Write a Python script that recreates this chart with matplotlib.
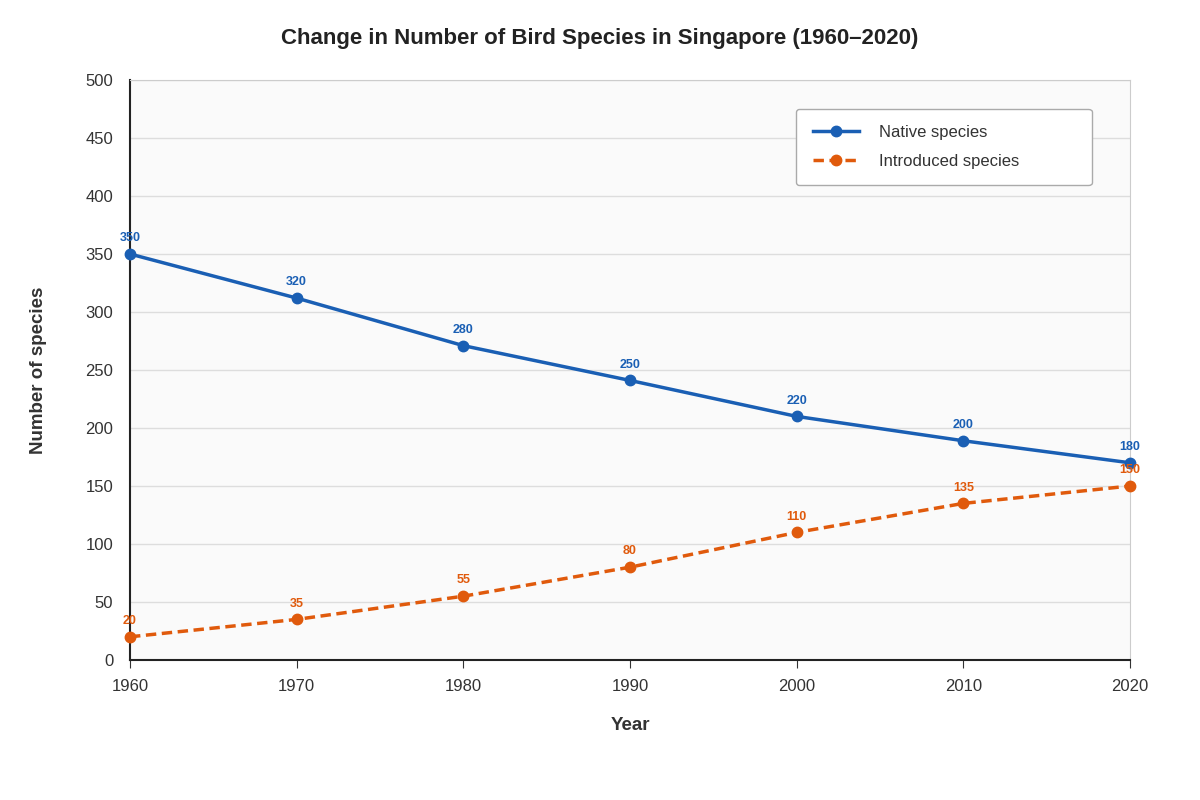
import matplotlib.pyplot as plt

plt.rcParams['font.family'] = ['Liberation Sans', 'DejaVu Sans']

years = [1960, 1970, 1980, 1990, 2000, 2010, 2020]
native = [350, 312, 271, 241, 210, 189, 170]
native_labels = ["350", "320", "280", "250", "220", "200", "180"]
introduced = [20, 35, 55, 80, 110, 135, 150]
introduced_labels = ["20", "35", "55", "80", "110", "135", "150"]

blue = "#1a5fb4"
orange = "#e05a0c"

fig = plt.figure(figsize=(12, 8), dpi=100)
ax = fig.add_axes([130/1200, 140/800, 1000/1200, 580/800])
ax.set_facecolor("#fafafa")

ax.plot(years, native, "-o", color=blue, lw=2.5, ms=7.5, label="Native species", clip_on=False, zorder=3)
ax.plot(years, introduced, "--o", color=orange, lw=2.5, ms=7.5, dashes=(3, 1.6),
        label="Introduced species", clip_on=False, zorder=3)

for x, y, t in zip(years, native, native_labels):
    ax.annotate(t, (x, y), xytext=(0, 7), textcoords="offset points",
                ha="center", va="bottom", fontsize=9, color=blue, fontweight="bold")
for x, y, t in zip(years, introduced, introduced_labels):
    ax.annotate(t, (x, y), xytext=(0, 7), textcoords="offset points",
                ha="center", va="bottom", fontsize=9, color=orange, fontweight="bold")

ax.set_xlim(1960, 2020)
ax.set_ylim(0, 500)
ax.set_xticks(years)
ax.set_yticks(range(0, 501, 50))
ax.tick_params(labelsize=12, colors="#333333", length=6)
ax.tick_params(axis="y", length=0, pad=12)
ax.tick_params(axis="x", pad=8)
ax.grid(axis="y", color="#dddddd", lw=1)
ax.set_axisbelow(True)
for s in ["top", "right"]:
    ax.spines[s].set_color("#cccccc")
for s in ["left", "bottom"]:
    ax.spines[s].set_color("#222222")
    ax.spines[s].set_linewidth(1.5)

ax.set_xlabel("Year", fontsize=13.5, fontweight="bold", color="#333333", labelpad=16)
ax.set_ylabel("Number of species", fontsize=13.5, fontweight="bold", color="#333333", labelpad=28)
fig.suptitle("Change in Number of Bird Species in Singapore (1960\u20132020)",
             y=0.965, fontsize=16, fontweight="bold", color="#222222")

leg = ax.legend(loc="upper right", bbox_to_anchor=(0.97, 0.965), fontsize=12,
                frameon=True, borderpad=1.0, labelspacing=0.8, handlelength=2.8,
                handletextpad=1.2, fancybox=True)
leg.get_frame().set_edgecolor("#aaaaaa")
leg.get_frame().set_facecolor("white")
leg.get_frame().set_alpha(1)
for t in leg.get_texts():
    t.set_color("#333333")
    t.set_text(t.get_text() + "            ")

fig.savefig("out.png", dpi=100)
